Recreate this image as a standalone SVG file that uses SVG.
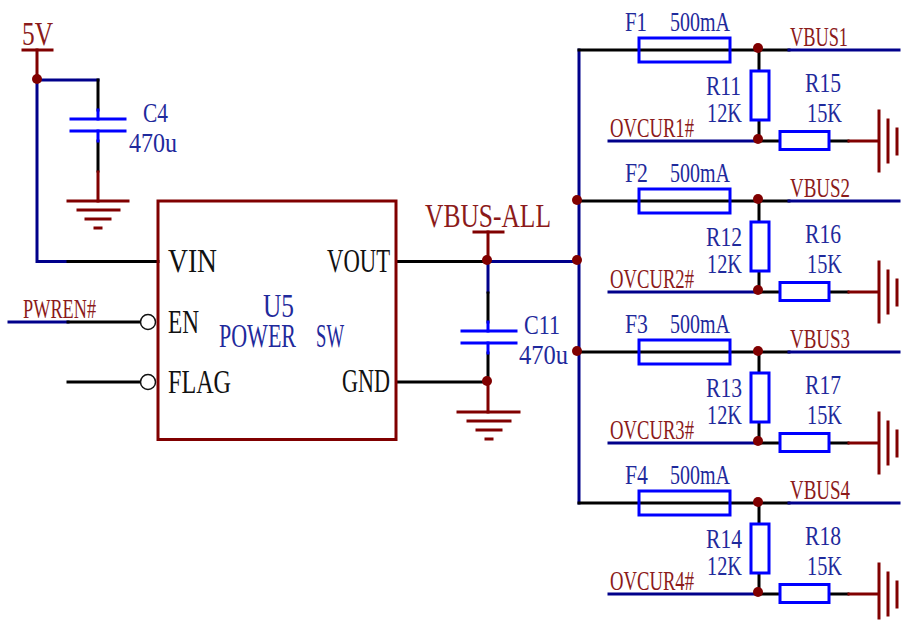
<svg xmlns="http://www.w3.org/2000/svg" width="901" height="620" viewBox="0 0 901 620">
<style>
text{font-family:"Liberation Serif","Times New Roman",serif;font-size:28px;white-space:pre}
.lg{font-size:33px}
.md{font-size:27px}
.n{fill:#1f2a9c}.r{fill:#8b1a1a}.k{fill:#111}
.w{fill:none;stroke-width:3;stroke-linecap:square}
.bl{stroke:#000}.nv{stroke:#00008b}.dr{stroke:#800000}.bb{stroke:#0000ff}
.box{fill:none;stroke:#0000ff;stroke-width:3}
.f{fill:#fff}
.j{fill:#800000}
.pin{fill:#fff;stroke:#111;stroke-width:1.5}
</style>
<rect width="901" height="620" fill="#fff"/>
<g id="connectors">
<path class="w nv" d="M37 79V261.500H68M37 80H98"/>
<path class="w bl" d="M68 261.500H158M98 80V110M98 141V171"/>
<path class="w bb" d="M98 110V119M98 131V141"/>
<path class="w dr" d="M37 50V78M98 172V201"/>
<path class="w nv" d="M9 322H68"/>
<path class="w bl" d="M68 322H142M68 382H142"/>
<path class="w bl" d="M397 261.500H488M397 382H488"/>
<path class="w nv" d="M488 261.500H578M488 262V292"/>
<path class="w bl" d="M488 293V322M488 353V382"/>
<path class="w bb" d="M488 322V331M488 343V353"/>
<path class="w dr" d="M488 232V260M488 382V412"/>
<path class="w nv" d="M579 50V503"/>
<path class="w bl" d="M579 50H758M579 201H758M579 352H758M579 503H758M758 50H789M758 201H789M758 352H789M758 503H789"/>
<path class="w nv" d="M789 50H899M789 201H899M789 352H899M789 503H899"/>
<path class="w bl" d="M759 50V71M759 120V139M759 201V222M759 271V290M759 352V373M759 422V441M759 503V524M759 573V592"/>
<path class="w nv" d="M609 141H757M609 292H757M609 443H757M609 594H757"/>
<path class="w bl" d="M759 141H780M759 292H780M759 443H780M759 594H780M829 141H848M829 292H848M829 443H848M829 594H848"/>
<path class="w dr" d="M849 141H878M849 292H878M849 443H878M849 594H878"/>
<circle class="j" cx="37" cy="79" r="5"/>
<circle class="j" cx="487" cy="260" r="5"/>
<circle class="j" cx="487" cy="381" r="5"/>
<circle class="j" cx="577" cy="200" r="5"/>
<circle class="j" cx="577" cy="260" r="5"/>
<circle class="j" cx="577" cy="351" r="5"/>
<circle class="j" cx="758" cy="48" r="5"/><circle class="j" cx="758" cy="139" r="5"/>
<circle class="j" cx="758" cy="199" r="5"/><circle class="j" cx="758" cy="290" r="5"/>
<circle class="j" cx="758" cy="351" r="5"/><circle class="j" cx="758" cy="441" r="5"/>
<circle class="j" cx="758" cy="502" r="5"/><circle class="j" cx="758" cy="592" r="5"/>
</g>
<g id="pwr-5v">
<path class="w dr" d="M23 50H52"/>
<text class="r lg" x="22" y="45" textLength="31" lengthAdjust="spacingAndGlyphs">5V</text>
</g>
<g id="c4">
<path class="w bb" d="M71 119H125M71 131H125"/>
<text class="n" x="143" y="122" textLength="25" lengthAdjust="spacingAndGlyphs">C4</text>
<text class="n" x="129" y="152" textLength="48" lengthAdjust="spacingAndGlyphs">470u</text>
</g>
<g id="gnd-c4">
<path class="w dr" d="M68 201H128M78 210H119M86 219H110M95 228H101"/>
</g>
<g id="u5">
<rect x="158" y="201" width="238" height="238.500" fill="none" stroke="#800000" stroke-width="3"/>
<circle class="pin" cx="148" cy="322" r="7.5"/>
<circle class="pin" cx="148" cy="382" r="7.5"/>
<text class="k lg" x="168" y="272" textLength="49" lengthAdjust="spacingAndGlyphs">VIN</text>
<text class="k lg" x="168" y="333" textLength="31" lengthAdjust="spacingAndGlyphs">EN</text>
<text class="k lg" x="168" y="393" textLength="63" lengthAdjust="spacingAndGlyphs">FLAG</text>
<text class="k lg" x="327" y="272" textLength="63" lengthAdjust="spacingAndGlyphs">VOUT</text>
<text class="k lg" x="342" y="392" textLength="48" lengthAdjust="spacingAndGlyphs">GND</text>
<text class="n lg" x="263" y="317" textLength="31" lengthAdjust="spacingAndGlyphs">U5</text>
<text class="n lg" x="219" y="347"><tspan textLength="77" lengthAdjust="spacingAndGlyphs">POWER</tspan> <tspan x="316" textLength="28" lengthAdjust="spacingAndGlyphs">SW</tspan></text>
<text class="r md" x="23" y="318" textLength="73" lengthAdjust="spacingAndGlyphs">PWREN#</text>
</g>
<g id="vbus-all">
<path class="w dr" d="M474 232H503"/>
<text class="r lg" x="425" y="227" textLength="126" lengthAdjust="spacingAndGlyphs">VBUS-ALL</text>
</g>
<g id="c11">
<path class="w bb" d="M462 331H516M462 343H516"/>
<text class="n" x="524" y="334" textLength="36" lengthAdjust="spacingAndGlyphs">C11</text>
<text class="n" x="519" y="364" textLength="49" lengthAdjust="spacingAndGlyphs">470u</text>
</g>
<g id="gnd-c11">
<path class="w dr" d="M458 412H519M468 421H510M477 430H501M486 439H492"/>
</g>
<g id="ch1">
<rect class="box" x="639" y="38" width="91" height="24"/>
<rect class="box f" x="751" y="71" width="18" height="49"/>
<rect class="box f" x="780" y="131.500" width="49" height="18"/>
<path class="w dr" d="M879 111V171M888 120V162M897 129V154"/>
<text class="n" x="625" y="31" textLength="22" lengthAdjust="spacingAndGlyphs">F1</text>
<text class="n" x="670" y="31" textLength="60" lengthAdjust="spacingAndGlyphs">500mA</text>
<text class="r" x="790" y="46" textLength="58" lengthAdjust="spacingAndGlyphs">VBUS1</text>
<text class="n" x="706" y="95" textLength="35" lengthAdjust="spacingAndGlyphs">R11</text>
<text class="n" x="707" y="122" textLength="35" lengthAdjust="spacingAndGlyphs">12K</text>
<text class="n" x="805" y="92" textLength="36" lengthAdjust="spacingAndGlyphs">R15</text>
<text class="n" x="807" y="122" textLength="35" lengthAdjust="spacingAndGlyphs">15K</text>
<text class="r" x="610" y="137" textLength="84" lengthAdjust="spacingAndGlyphs">OVCUR1#</text>
</g>
<g id="ch2">
<rect class="box" x="639" y="189" width="91" height="24"/>
<rect class="box f" x="751" y="222" width="18" height="49"/>
<rect class="box f" x="780" y="282.500" width="49" height="18"/>
<path class="w dr" d="M879 262V322M888 271V313M897 280V305"/>
<text class="n" x="625" y="182" textLength="23" lengthAdjust="spacingAndGlyphs">F2</text>
<text class="n" x="670" y="182" textLength="60" lengthAdjust="spacingAndGlyphs">500mA</text>
<text class="r" x="790" y="197" textLength="60" lengthAdjust="spacingAndGlyphs">VBUS2</text>
<text class="n" x="706" y="246" textLength="36" lengthAdjust="spacingAndGlyphs">R12</text>
<text class="n" x="707" y="273" textLength="35" lengthAdjust="spacingAndGlyphs">12K</text>
<text class="n" x="805" y="243" textLength="36" lengthAdjust="spacingAndGlyphs">R16</text>
<text class="n" x="807" y="273" textLength="35" lengthAdjust="spacingAndGlyphs">15K</text>
<text class="r" x="610" y="288" textLength="84" lengthAdjust="spacingAndGlyphs">OVCUR2#</text>
</g>
<g id="ch3">
<rect class="box" x="639" y="340" width="91" height="24"/>
<rect class="box f" x="751" y="373" width="18" height="49"/>
<rect class="box f" x="780" y="433.500" width="49" height="18"/>
<path class="w dr" d="M879 413V473M888 422V464M897 431V456"/>
<text class="n" x="625" y="333" textLength="23" lengthAdjust="spacingAndGlyphs">F3</text>
<text class="n" x="670" y="333" textLength="60" lengthAdjust="spacingAndGlyphs">500mA</text>
<text class="r" x="790" y="348" textLength="60" lengthAdjust="spacingAndGlyphs">VBUS3</text>
<text class="n" x="706" y="397" textLength="36" lengthAdjust="spacingAndGlyphs">R13</text>
<text class="n" x="707" y="424" textLength="35" lengthAdjust="spacingAndGlyphs">12K</text>
<text class="n" x="805" y="394" textLength="36" lengthAdjust="spacingAndGlyphs">R17</text>
<text class="n" x="807" y="424" textLength="35" lengthAdjust="spacingAndGlyphs">15K</text>
<text class="r" x="610" y="439" textLength="84" lengthAdjust="spacingAndGlyphs">OVCUR3#</text>
</g>
<g id="ch4">
<rect class="box" x="639" y="491" width="91" height="24"/>
<rect class="box f" x="751" y="524" width="18" height="49"/>
<rect class="box f" x="780" y="584.500" width="49" height="18"/>
<path class="w dr" d="M879 564V618M888 573V615M897 582V607"/>
<text class="n" x="625" y="484" textLength="23" lengthAdjust="spacingAndGlyphs">F4</text>
<text class="n" x="670" y="484" textLength="60" lengthAdjust="spacingAndGlyphs">500mA</text>
<text class="r" x="790" y="499" textLength="60" lengthAdjust="spacingAndGlyphs">VBUS4</text>
<text class="n" x="706" y="548" textLength="36" lengthAdjust="spacingAndGlyphs">R14</text>
<text class="n" x="707" y="575" textLength="35" lengthAdjust="spacingAndGlyphs">12K</text>
<text class="n" x="805" y="545" textLength="36" lengthAdjust="spacingAndGlyphs">R18</text>
<text class="n" x="807" y="575" textLength="35" lengthAdjust="spacingAndGlyphs">15K</text>
<text class="r" x="610" y="590" textLength="84" lengthAdjust="spacingAndGlyphs">OVCUR4#</text>
</g>
</svg>
